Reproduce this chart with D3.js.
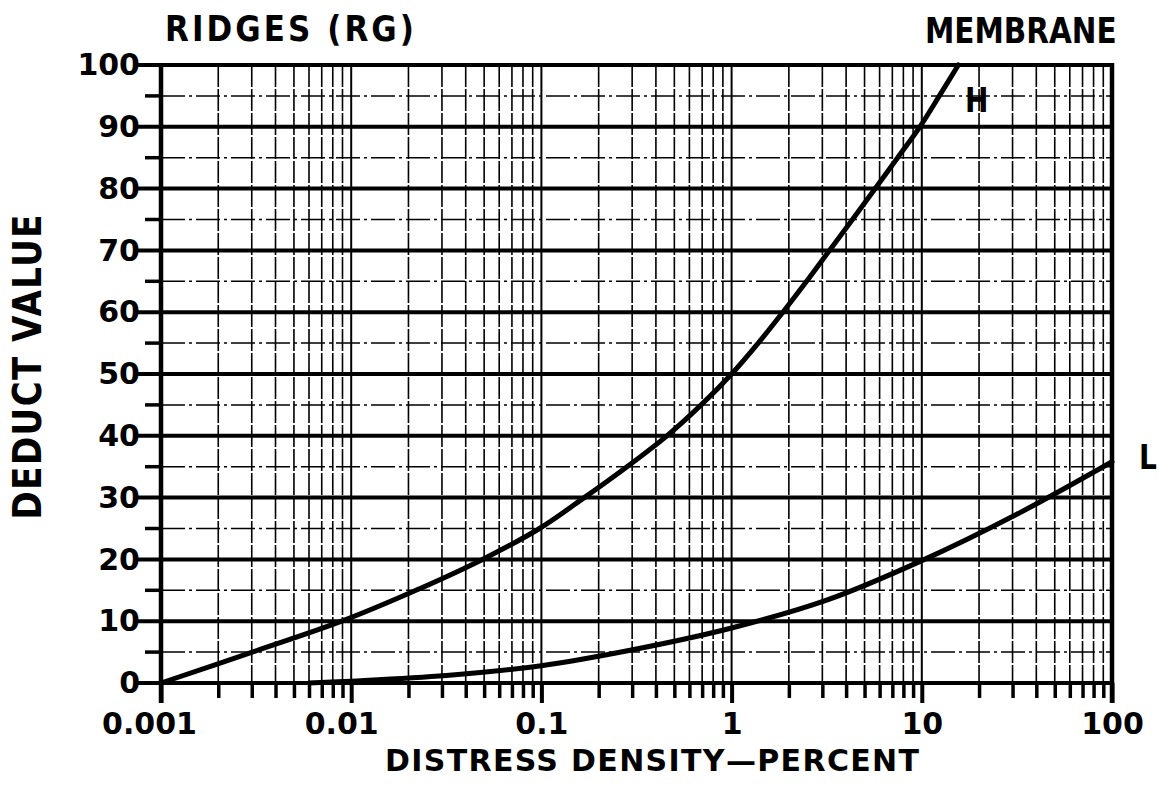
<!DOCTYPE html>
<html>
<head>
<meta charset="utf-8">
<script src="https://cdn.jsdelivr.net/npm/d3@7"></script>
<style>
  html, body { margin: 0; padding: 0; background: #fff; }
  svg text { font-family: "DejaVu Sans", "Liberation Sans", sans-serif; font-weight: bold; fill: #000; }
</style>
</head>
<body>
<svg id="chart" width="1159" height="790"></svg>
<script>
// ---- data ----
const xMajorTicks = [0.001, 0.01, 0.1, 1, 10, 100];
const xTickLabels = ["0.001", "0.01", "0.1", "1", "10", "100"];
const yMajorTicks = [0, 10, 20, 30, 40, 50, 60, 70, 80, 90, 100];
const yMinorTicks = [5, 15, 25, 35, 45, 55, 65, 75, 85, 95];

// High severity curve (H)
const hDensity = [0.001, 0.00302, 0.00891, 0.0219, 0.049, 0.0977, 0.168, 0.282, 0.457, 0.692, 1.0, 1.38, 1.86, 2.48, 3.27, 4.32, 5.69, 7.46, 9.77, 12.36, 15.56];
const hDeduct  = [0, 5, 10, 15, 20, 25, 30, 35, 40, 45, 50, 55, 60, 65, 70, 75, 80, 85, 90, 95, 100];

// Low severity curve (L)
const lDensity = [0.006, 0.01, 0.0316, 0.1, 0.316, 1, 3.16, 10, 31.6, 100];
const lDeduct  = [0, 0.3, 1.2, 2.8, 5.5, 8.9, 13.4, 19.8, 27.3, 35.8];

const chartTitle = "RIDGES  (RG)";
const chartSubtitle = "MEMBRANE";
const xTitle = "DISTRESS  DENSITY\u2014PERCENT";
const yTitle = "DEDUCT  VALUE";

// ---- drawing ----
(function () {
const svg = d3.select("#chart");
const pLeft = 161, pRight = 1112, pTop = 65, pBottom = 683;

const x = d3.scaleLog().domain([0.001, 100]).range([pLeft, pRight]);
const y = d3.scaleLinear().domain([0, 100]).range([pBottom, pTop]);

const allXTicks = x.ticks();               // 1..9 multiples of each decade
const xMinor = allXTicks.filter(v => !xMajorTicks.some(m => Math.abs(m - v) / m < 1e-9));
const xInnerMajor = xMajorTicks.slice(1, -1);

const grid = svg.append("g");

// thin vertical minor gridlines
grid.selectAll("line.vmin").data(xMinor).join("line")
  .attr("x1", d => x(d)).attr("x2", d => x(d))
  .attr("y1", pTop).attr("y2", pBottom)
  .attr("stroke", "#000").attr("stroke-width", 1.6)
  .attr("stroke-dasharray", "22,2");

// inner decade verticals
grid.selectAll("line.vmaj").data(xInnerMajor).join("line")
  .attr("x1", d => x(d)).attr("x2", d => x(d))
  .attr("y1", pTop).attr("y2", pBottom)
  .attr("stroke", "#000").attr("stroke-width", 2);

// thin dash-dot horizontal minor gridlines
grid.selectAll("line.hmin").data(yMinorTicks).join("line")
  .attr("x1", pLeft).attr("x2", pRight)
  .attr("y1", d => y(d)).attr("y2", d => y(d))
  .attr("stroke", "#000").attr("stroke-width", 1.5)
  .attr("stroke-dasharray", "24,4,3,4");

// minor y ticks outside
grid.selectAll("line.hmint").data(yMinorTicks).join("line")
  .attr("x1", pLeft - 16).attr("x2", pLeft)
  .attr("y1", d => y(d)).attr("y2", d => y(d))
  .attr("stroke", "#000").attr("stroke-width", 3.5);

// thick horizontal major gridlines (extending left as ticks)
grid.selectAll("line.hmaj").data(yMajorTicks).join("line")
  .attr("x1", pLeft - 23).attr("x2", pRight)
  .attr("y1", d => y(d)).attr("y2", d => y(d))
  .attr("stroke", "#000").attr("stroke-width", 4);

// bottom minor ticks
const minorAxis = d3.axisBottom(x).tickValues(xMinor).tickSize(15).tickFormat("");
const gMinor = svg.append("g").attr("transform", `translate(0,${pBottom})`).call(minorAxis);
gMinor.select(".domain").remove();
gMinor.selectAll(".tick line").attr("stroke", "#000").attr("stroke-width", 3.5);

// bottom major ticks + labels
const labelShift = [-12, -10, 0, 0, 0, 0];
const majorAxis = d3.axisBottom(x).tickValues(xMajorTicks).tickSize(20).tickPadding(10)
  .tickFormat((d, i) => xTickLabels[i]);
const gMajor = svg.append("g").attr("transform", `translate(0,${pBottom})`).call(majorAxis);
gMajor.select(".domain").remove();
gMajor.selectAll(".tick line").attr("stroke", "#000").attr("stroke-width", 4);
gMajor.selectAll(".tick text").attr("font-size", 30).attr("font-family", null).attr("fill", "#000")
  .attr("dx", (d, i) => labelShift[i]);

// left / right frame
svg.append("line").attr("x1", pLeft).attr("x2", pLeft).attr("y1", pTop - 2).attr("y2", pBottom + 20)
  .attr("stroke", "#000").attr("stroke-width", 4.5);
svg.append("line").attr("x1", pRight).attr("x2", pRight).attr("y1", pTop - 2).attr("y2", pBottom + 20)
  .attr("stroke", "#000").attr("stroke-width", 4.5);

// left labels
const leftAxis = d3.axisLeft(y).tickValues(yMajorTicks).tickSize(0).tickPadding(21);
const gLeft = svg.append("g").attr("transform", `translate(${pLeft},0)`).call(leftAxis);
gLeft.select(".domain").remove();
gLeft.selectAll(".tick text").attr("font-size", 30).attr("font-family", null).attr("fill", "#000");

// curves
const lineGen = d3.line().x(d => x(d[0])).y(d => y(d[1])).curve(d3.curveCatmullRom.alpha(0.5));
svg.append("path").datum(d3.zip(hDensity, hDeduct))
  .attr("d", lineGen).attr("fill", "none").attr("stroke", "#000")
  .attr("stroke-width", 5).attr("stroke-linecap", "round");
svg.append("path").datum(d3.zip(lDensity, lDeduct))
  .attr("d", lineGen).attr("fill", "none").attr("stroke", "#000")
  .attr("stroke-width", 5).attr("stroke-linecap", "round");

// curve labels (slightly tall lettering like the original)
svg.append("text").attr("transform", "translate(965,112) scale(1,1.2)")
  .attr("font-size", 28).text("H");
svg.append("text").attr("transform", "translate(1139,469) scale(1,1.2)")
  .attr("font-size", 28).text("L");

// titles
svg.append("text").attr("transform", "translate(165,41) scale(1,1.15)")
  .attr("font-size", 31).attr("textLength", 249).attr("lengthAdjust", "spacing").text(chartTitle);
svg.append("text").attr("transform", "translate(925,43) scale(1,1.2)")
  .attr("font-size", 29.5).text(chartSubtitle);
svg.append("text").attr("x", 385).attr("y", 771).attr("font-size", 30)
  .attr("textLength", 534).attr("lengthAdjust", "spacing").text(xTitle);
svg.append("text").attr("transform", "translate(41,367) rotate(-90) scale(1,1.15)")
  .attr("text-anchor", "middle").attr("font-size", 34)
  .attr("textLength", 305).attr("lengthAdjust", "spacing").text(yTitle);
})();
</script>
</body>
</html>
